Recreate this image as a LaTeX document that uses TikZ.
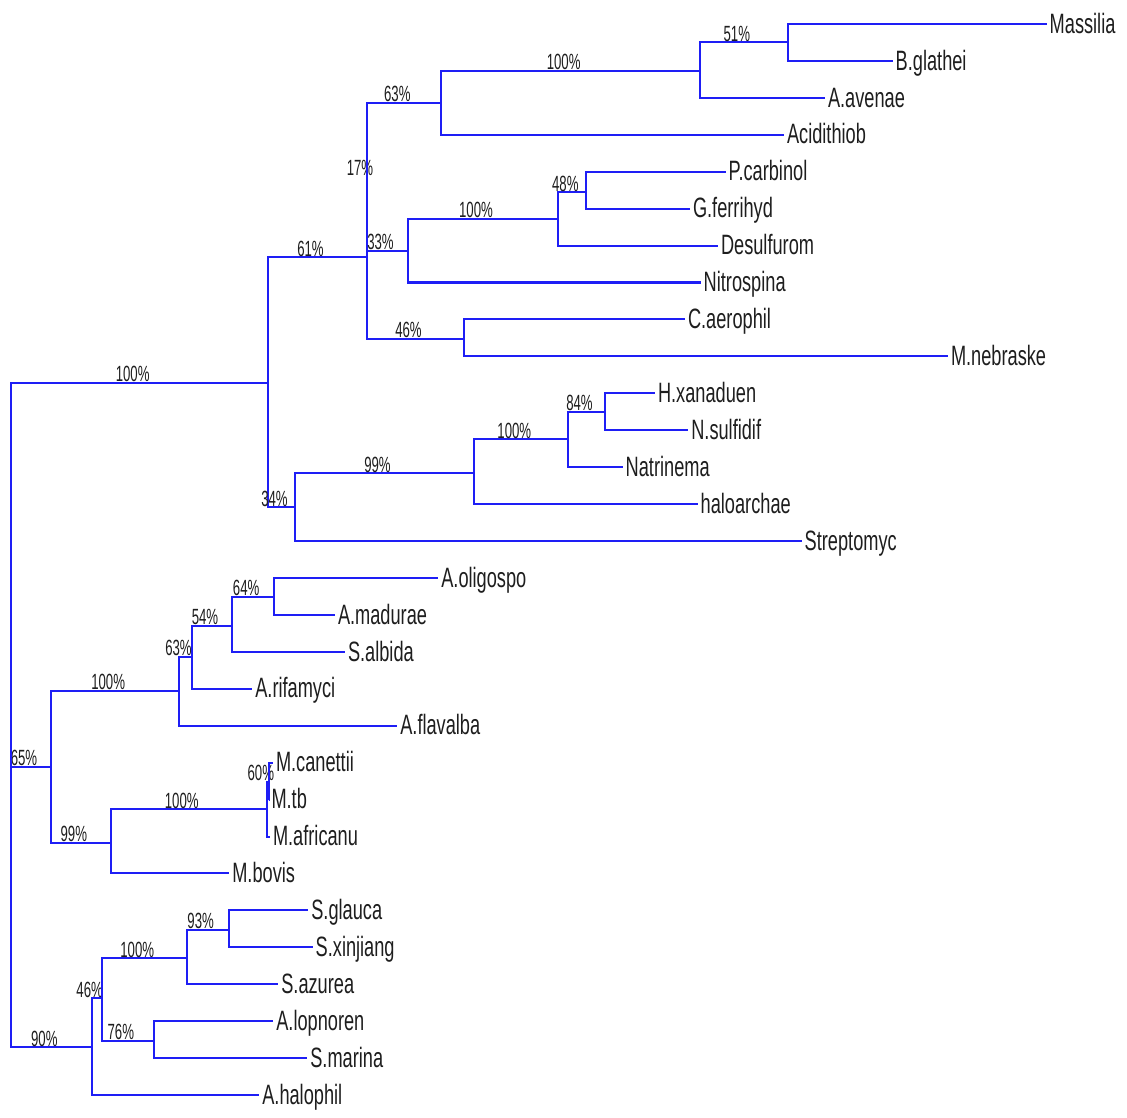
\documentclass[tikz,border=0pt]{standalone}
\usepackage{fontspec}
\setmainfont{Liberation Sans}
\newfontfamily\leaffont[FakeStretch=0.65]{Liberation Sans}
\newfontfamily\bootfont[FakeStretch=0.6]{Liberation Sans}
\definecolor{treeblue}{RGB}{30,30,245}
\definecolor{labgray}{RGB}{30,30,30}

\begin{document}
\begin{tikzpicture}[x=0.5pt, y=-0.5pt,
    branch/.style={draw=treeblue, line width=1pt},
    leaf/.style={anchor=base west, inner sep=1pt, yshift=-4.6pt, text=labgray, font=\leaffont\fontsize{14}{14}\selectfont},
    boot/.style={pos=0.75, anchor=south, inner sep=0pt, xshift=-3.5pt, text=labgray, font=\bootfont\fontsize{11}{11}\selectfont}]
            \useasboundingbox (0,0) rectangle (1127,1117);
               \coordinate (root) at (11,715);
               \coordinate (n100a) at (268.3,382.5);
               \coordinate (n65) at (51,767);
               \coordinate (n90) at (91.7,1047.3);
               \coordinate (n61) at (366.7,257.3);
               \coordinate (n34) at (294.7,507.3);
               \coordinate (n17) at (367.3,177);
               \coordinate (n46a) at (464.3,339);
               \coordinate (n63a) at (441.3,103);
               \coordinate (n33) at (407.7,251);
               \coordinate (n100b) at (700,70.7);
               \coordinate (n51) at (787.7,42.3);
               \coordinate (n100c) at (558.3,219);
               \coordinate (n48) at (586.3,192.3);
               \coordinate (n99a) at (474.3,473.3);
               \coordinate (n100d) at (568.3,439.3);
               \coordinate (n84) at (604.7,411.7);
               \coordinate (n100e) at (179.3,691);
               \coordinate (n63b) at (191.7,656.7);
               \coordinate (n54) at (232.3,626);
               \coordinate (n64) at (274,596.7);
               \coordinate (n99b) at (110.7,842.7);
               \coordinate (n100f) at (266.7,809.3);
               \coordinate (n60) at (269,781.5);
               \coordinate (n46b) at (101.7,998.3);
               \coordinate (n100g) at (186.7,958.3);
               \coordinate (n93) at (228.7,930);
               \coordinate (n76) at (154,1041);

               \draw [branch] (root) |- node [boot] (b100a) {100\%} (n100a);
               \draw [branch] (root) |- node [boot] (b65) {65\%} (n65);
               \draw [branch] (root) |- node [boot] (b90) {90\%} (n90);

               \draw [branch] (n100a) |- node [boot] (b61) {61\%} (n61);
               \draw [branch] (n100a) |- node [boot] (b34) {34\%} (n34);
               \draw [branch] (n61) |- node [boot] (b17) {17\%} (n17);
               \draw [branch] (n61) |- node [boot] (b46a) {46\%} (n46a);
               \draw [branch] (n17) |- node [boot] (b63a) {63\%} (n63a);
               \draw [branch] (n17) |- node [boot] (b33) {33\%} (n33);
               \draw [branch] (n63a) |- node [boot] (b100b) {100\%} (n100b);
               \draw [branch] (n63a) |- (784,134.8) node [leaf] (acidithiob) {Acidithiob};
               \draw [branch] (n100b) |- node [boot] (b51) {51\%} (n51);
               \draw [branch] (n100b) |- (825,97.9) node [leaf] (aavenae) {A.avenae};
               \draw [branch] (n51) |- (1046.7,24) node [leaf] (massilia) {Massilia};
               \draw [branch] (n51) |- (892.7,60.9) node [leaf] (bglathei) {B.glathei};
               \draw [branch] (n33) |- node [boot] (b100c) {100\%} (n100c);
               \draw [branch] (n33) |- (700.7,282.5) node [leaf] (nitrospina) {Nitrospina};
               \draw [branch] (n100c) |- node [boot] (b48) {48\%} (n48);
               \draw [branch] (n100c) |- (718,245.6) node [leaf] (desulfurom) {Desulfurom};
               \draw [branch] (n48) |- (725.7,171.7) node [leaf] (pcarbinol) {P.carbinol};
               \draw [branch] (n48) |- (690,208.7) node [leaf] (gferrihyd) {G.ferrihyd};
               \draw [branch] (n46a) |- (685,319.4) node [leaf] (caerophil) {C.aerophil};
               \draw [branch] (n46a) |- (948,356.4) node [leaf] (mnebraske) {M.nebraske};

               \draw [branch] (n34) |- node [boot] (b99a) {99\%} (n99a);
               \draw [branch] (n34) |- (801.7,541) node [leaf] (streptomyc) {Streptomyc};
               \draw [branch] (n99a) |- node [boot] (b100d) {100\%} (n100d);
               \draw [branch] (n99a) |- (697.7,504.1) node [leaf] (haloarchae) {haloarchae};
               \draw [branch] (n100d) |- node [boot] (b84) {84\%} (n84);
               \draw [branch] (n100d) |- (622.7,467.2) node [leaf] (natrinema) {Natrinema};
               \draw [branch] (n84) |- (655,393.3) node [leaf] (hxanaduen) {H.xanaduen};
               \draw [branch] (n84) |- (688.3,430.2) node [leaf] (nsulfidif) {N.sulfidif};

               \draw [branch] (n65) |- node [boot] (b100e) {100\%} (n100e);
               \draw [branch] (n65) |- node [boot] (b99b) {99\%} (n99b);
               \draw [branch] (n100e) |- node [boot] (b63b) {63\%} (n63b);
               \draw [branch] (n100e) |- (397.3,725.7) node [leaf] (aflavalba) {A.flavalba};
               \draw [branch] (n63b) |- node [boot] (b54) {54\%} (n54);
               \draw [branch] (n63b) |- (252.3,688.7) node [leaf] (arifamyci) {A.rifamyci};
               \draw [branch] (n54) |- node [boot] (b64) {64\%} (n64);
               \draw [branch] (n54) |- (345,651.8) node [leaf] (salbida) {S.albida};
               \draw [branch] (n64) |- (438.3,577.9) node [leaf] (aoligospo) {A.oligospo};
               \draw [branch] (n64) |- (335,614.9) node [leaf] (amadurae) {A.madurae};
               \draw [branch] (n99b) |- node [boot] (b100f) {100\%} (n100f);
               \draw [branch] (n99b) |- (229.3,873.4) node [leaf] (mbovis) {M.bovis};
               \draw [branch] (n100f) |- node [boot] (b60) {60\%} (n60);
               \draw [branch] (n100f) |- (270,836.5) node [leaf] (mafricanu) {M.africanu};
               \draw [branch] (n60) |- (273,762.6) node [leaf] (mcanettii) {M.canettii};
               \draw [branch] (n60) |- (268.5,799.5) node [leaf] (mtb) {M.tb};

               \draw [branch] (n90) |- node [boot] (b46b) {46\%} (n46b);
               \draw [branch] (n90) |- (259.3,1095) node [leaf] (ahalophil) {A.halophil};
               \draw [branch] (n46b) |- node [boot] (b100g) {100\%} (n100g);
               \draw [branch] (n46b) |- node [boot] (b76) {76\%} (n76);
               \draw [branch] (n100g) |- node [boot] (b93) {93\%} (n93);
               \draw [branch] (n100g) |- (278.3,984.2) node [leaf] (sazurea) {S.azurea};
               \draw [branch] (n93) |- (308.3,910.3) node [leaf] (sglauca) {S.glauca};
               \draw [branch] (n93) |- (312.7,947.2) node [leaf] (sxinjiang) {S.xinjiang};
               \draw [branch] (n76) |- (273.3,1021.1) node [leaf] (alopnoren) {A.lopnoren};
               \draw [branch] (n76) |- (307.3,1058) node [leaf] (smarina) {S.marina};
           \end{tikzpicture}
\end{document}
